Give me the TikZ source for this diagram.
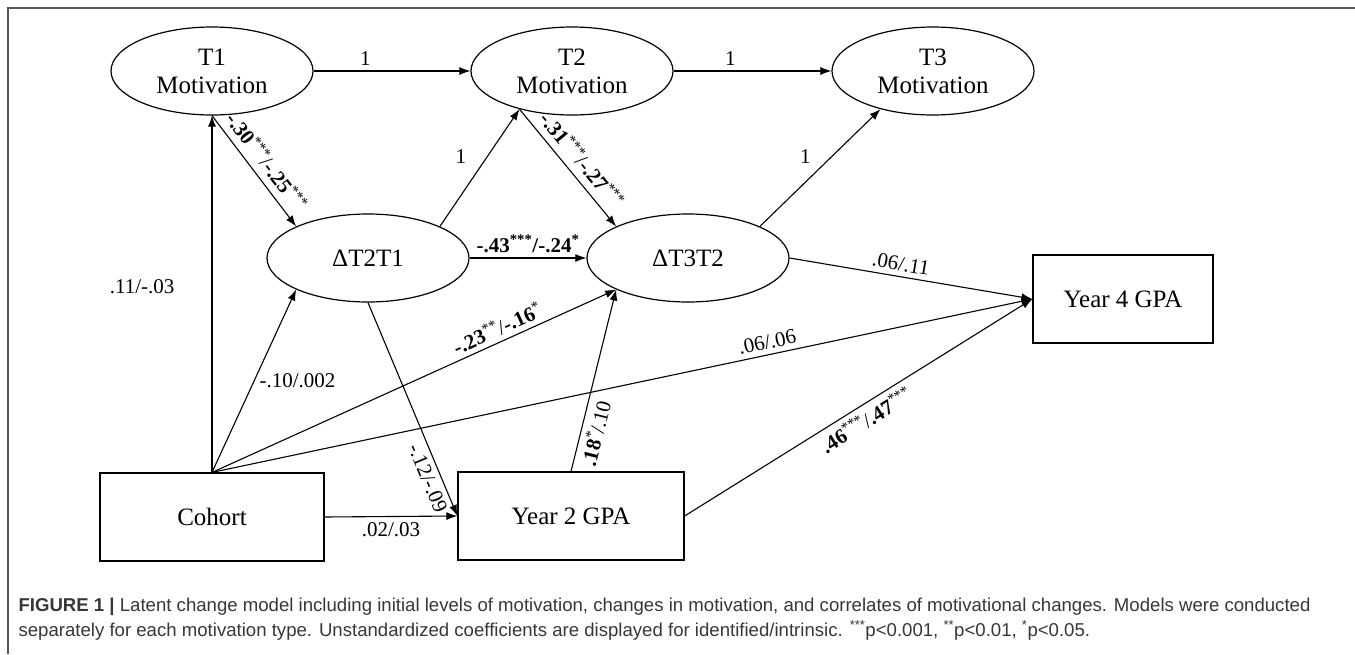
\documentclass[tikz,border=0pt]{standalone}
\usepackage{fontspec}
\setmainfont{Liberation Serif}
\newfontfamily\capfont{Liberation Sans}
\usetikzlibrary{shapes.geometric,arrows.meta}
\definecolor{captiongray}{RGB}{55,55,55}
\definecolor{framegray}{RGB}{85,85,85}

\begin{document}
\begin{tikzpicture}[x=1pt, y=-1pt, line width=1.1pt,
latent_style/.style={ellipse,draw=black,line width=1.2pt,minimum width=202pt,minimum height=88pt,inner sep=0pt,align=center,font=\fontsize{25}{28}\selectfont},
observed_style/.style={rectangle,draw=black,line width=1.2pt,minimum height=88pt,inner sep=0pt,font=\fontsize{25}{28}\selectfont},
edge_style/.style={draw=black,-{Latex[length=11pt,width=8pt]}},
coef_style/.style={font=\fontsize{21}{24}\selectfont,inner sep=5pt},
caption_style/.style={align=left,inner sep=0pt,text=captiongray,font=\capfont\fontsize{18.6}{25}\selectfont}]
\useasboundingbox (0,0) rectangle (1355,654);
\draw[framegray, line width=1.5pt] (8,654) -- (8,8) -- (1355,8);

\node[latent_style] (t1) at (212,71) {T1\\Motivation};
\node[latent_style] (t2) at (572,71) {T2\\Motivation};
\node[latent_style] (t3) at (933,71) {T3\\Motivation};
\node[latent_style] (dt21) at (368,258) {ΔT2T1};
\node[latent_style] (dt32) at (688,258) {ΔT3T2};
\node[observed_style, minimum width=224pt] (cohort) at (212,517) {Cohort};
\node[observed_style, minimum width=226pt] (y2gpa) at (571,516) {Year 2 GPA};
\node[observed_style, minimum width=180pt] (y4gpa) at (1123,299) {Year 4 GPA};

% stability paths
\draw[edge_style] (t1.east) -- node[coef_style,above,pos=0.33]{1} (t2.west);
\draw[edge_style] (t2.east) -- node[coef_style,above,pos=0.36]{1} (t3.west);
\draw[edge_style] (dt21.north east) -- node[coef_style,left=16pt,pos=0.6]{1} (t2.216);
\draw[edge_style] (dt32.north east) -- node[coef_style,left=16pt,pos=0.6]{1} (t3.216);

% change paths
\draw[edge_style] (t1.south) -- node[coef_style,sloped,above,pos=0.5,inner sep=7pt]{\textbf{-.30}\textsuperscript{***}/\textbf{-.25}\textsuperscript{***}} (dt21.north west);
\draw[edge_style] (t2.216) -- node[coef_style,sloped,above,pos=0.52,inner sep=7pt]{\textbf{-.31}\textsuperscript{***}/\textbf{-.27}\textsuperscript{***}} (dt32.north west);
\draw[edge_style] (dt21.east) -- node[coef_style,above]{\textbf{-.43\textsuperscript{***}/-.24\textsuperscript{*}}} (dt32.west);

% cohort
\draw[edge_style] (cohort.north) -- node[coef_style,left=32pt,pos=0.52]{.11/-.03} (t1.south);
\draw[edge_style] (cohort.north) -- node[coef_style,right,pos=0.5]{-.10/.002} (dt21.south west);
\draw[edge_style] (cohort.north) -- node[coef_style,sloped,above,pos=0.72]{\textbf{-.23}\textsuperscript{**}/\textbf{-.16}\textsuperscript{*}} (dt32.south west);
\draw[edge_style] (cohort.north) -- node[coef_style,sloped,above,pos=0.68]{.06/.06} (y4gpa.west);
\draw[edge_style] (cohort.east) -- node[coef_style,below]{.02/.03} (y2gpa.west);

% gpa
\draw[edge_style] (dt21.south) -- node[coef_style,sloped,below,pos=0.8]{-.12/-.09} (y2gpa.west);
\draw[edge_style] (y2gpa.north) -- node[coef_style,sloped,below,pos=0.23]{\textbf{.18}\textsuperscript{*}/.10} (dt32.south west);
\draw[edge_style] (dt32.east) -- node[coef_style,sloped,above,pos=0.45]{.06/.11} (y4gpa.west);
\draw[edge_style] (y2gpa.east) -- node[coef_style,sloped,below,pos=0.5]{\textbf{.46}\textsuperscript{***}/\textbf{.47}\textsuperscript{***}} (y4gpa.west);

\node[caption_style, anchor=north west] (caption) at (18,597) {\textbf{FIGURE 1 |} Latent change model including initial levels of motivation, changes in motivation, and correlates of motivational changes. Models were conducted\\
separately for each motivation type. Unstandardized coefficients are displayed for identified/intrinsic. \textsuperscript{***}p<0.001, \textsuperscript{**}p<0.01, \textsuperscript{*}p<0.05.};
\end{tikzpicture}
\end{document}
